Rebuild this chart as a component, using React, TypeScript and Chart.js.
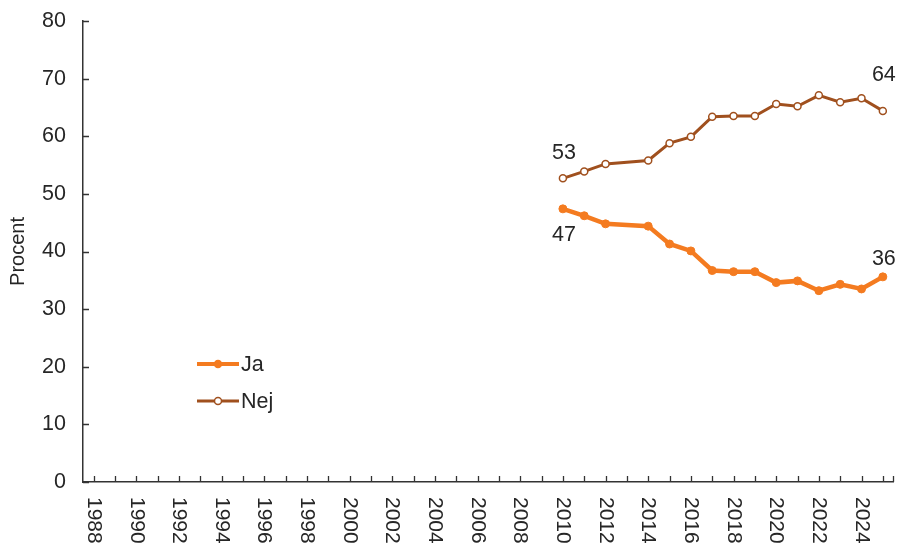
import React, { useEffect, useRef } from "react";
import { Chart, registerables } from "chart.js";

Chart.register(...registerables);

const years: string[] = [];
for (let y = 1988; y <= 2025; y++) years.push(String(y));

// values from 2010 to 2025 (2013 missing)
const jaValues: (number | null)[] = [
  null, null, null, null, null, null, null, null, null, null, null,
  null, null, null, null, null, null, null, null, null, null, null,
  47.4, 46.2, 44.8, null, 44.4, 41.3, 40.1, 36.7, 36.5, 36.5, 34.6, 34.9, 33.2, 34.3, 33.5, 35.6,
];
const nejValues: (number | null)[] = [
  null, null, null, null, null, null, null, null, null, null, null,
  null, null, null, null, null, null, null, null, null, null, null,
  52.7, 53.9, 55.2, null, 55.8, 58.8, 59.9, 63.4, 63.5, 63.5, 65.6, 65.2, 67.1, 65.9, 66.6, 64.4,
];
const seriesNames = ["Ja", "Nej"];
const yTicks = [0, 10, 20, 30, 40, 50, 60, 70, 80];
const yTitle = "Procent";

const JA_COLOR = "#F47B20";
const NEJ_COLOR = "#A0501E";
const TEXT = "#262626";
const AXIS = "#333333";
const FONT = "'Liberation Sans', Arial, sans-serif";
const FS = 21.5;

export default function App() {
  const ref = useRef<HTMLCanvasElement | null>(null);

  useEffect(() => {
    if (!ref.current) return;

    const customDraw = {
      id: "customDraw",
      afterDraw(chart: any) {
        const ctx = chart.ctx as CanvasRenderingContext2D;
        const area = chart.chartArea;
        const xs = chart.scales.x;
        const ys = chart.scales.y;
        ctx.save();
        // inward tick marks
        ctx.strokeStyle = AXIS;
        ctx.lineWidth = 1.3;
        ctx.beginPath();
        yTicks.forEach((v) => {
          const y = Math.round(ys.getPixelForValue(v)) + 0.5;
          ctx.moveTo(area.left, y);
          ctx.lineTo(area.left + 6, y);
        });
        years.forEach((_, i) => {
          const x = Math.round(xs.getPixelForValue(i)) + 0.5;
          ctx.moveTo(x, area.bottom);
          ctx.lineTo(x, area.bottom - 6);
        });
        ctx.moveTo(area.right, area.bottom);
        ctx.lineTo(area.right, area.bottom - 6);
        ctx.stroke();

        // rotated x labels (reading top to bottom)
        ctx.fillStyle = TEXT;
        ctx.font = `21px ${FONT}`;
        ctx.textAlign = "left";
        ctx.textBaseline = "middle";
        years.forEach((lab, i) => {
          if (i % 2 !== 0) return;
          const x = xs.getPixelForValue(i);
          ctx.save();
          ctx.translate(x, area.bottom + 15);
          ctx.rotate(Math.PI / 2);
          ctx.fillText(lab, 0, 0);
          ctx.restore();
        });

        // data labels at first and last points
        ctx.font = `${FS}px ${FONT}`;
        const metaJa = chart.getDatasetMeta(0);
        const metaNej = chart.getDatasetMeta(1);
        const firstIdx = jaValues.findIndex((v) => v !== null);
        const lastIdx = jaValues.length - 1;
        ctx.textAlign = "center";
        const lbl = (meta: any, idx: number, vals: (number | null)[], dy: number) => {
          const p = meta.data[idx];
          ctx.fillText(String(Math.round(vals[idx] as number)), p.x + 1, p.y + dy);
        };
        lbl(metaNej, firstIdx, nejValues, -25);
        lbl(metaJa, firstIdx, jaValues, 26);
        lbl(metaNej, lastIdx, nejValues, -36);
        lbl(metaJa, lastIdx, jaValues, -18);

        // legend
        const items = [
          { name: seriesNames[0], color: JA_COLOR, y: 364, filled: true, lw: 4 },
          { name: seriesNames[1], color: NEJ_COLOR, y: 401, filled: false, lw: 3 },
        ];
        items.forEach((it) => {
          ctx.strokeStyle = it.color;
          ctx.lineWidth = it.lw;
          ctx.beginPath();
          ctx.moveTo(197, it.y);
          ctx.lineTo(239, it.y);
          ctx.stroke();
          ctx.beginPath();
          ctx.arc(218, it.y, 3.5, 0, Math.PI * 2);
          ctx.fillStyle = it.filled ? it.color : "#ffffff";
          ctx.fill();
          ctx.lineWidth = 1.5;
          ctx.stroke();
          ctx.fillStyle = TEXT;
          ctx.textAlign = "left";
          ctx.textBaseline = "middle";
          ctx.fillText(it.name, 241, it.y + 1);
        });
        ctx.restore();
      },
    };

    const chart = new Chart(ref.current, {
      type: "line",
      data: {
        labels: years,
        datasets: [
          {
            label: seriesNames[0],
            data: jaValues,
            borderColor: JA_COLOR,
            backgroundColor: JA_COLOR,
            borderWidth: 4.5,
            pointRadius: 4,
            pointBorderWidth: 1,
            pointBackgroundColor: JA_COLOR,
            pointBorderColor: JA_COLOR,
            spanGaps: true,
            tension: 0,
          },
          {
            label: seriesNames[1],
            data: nejValues,
            borderColor: NEJ_COLOR,
            backgroundColor: "#ffffff",
            borderWidth: 3,
            pointRadius: 3.5,
            pointBorderWidth: 1.5,
            pointBackgroundColor: "#ffffff",
            pointBorderColor: NEJ_COLOR,
            spanGaps: true,
            tension: 0,
          },
        ],
      },
      options: {
        responsive: false,
        animation: false,
        devicePixelRatio: 1,
        layout: { padding: { left: 0, right: 4, top: 21, bottom: 0 } },
        plugins: {
          legend: { display: false },
          tooltip: { enabled: false },
        },
        scales: {
          x: {
            type: "category",
            offset: true,
            grid: { display: false, drawTicks: false },
            border: { display: true, color: AXIS, width: 1.5 },
            ticks: { display: false },
            afterFit: (s: any) => {
              s.height = 61;
              s.paddingLeft = 0;
              s.paddingRight = 0;
            },
          },
          y: {
            min: 0,
            max: 80,
            grid: { display: false, drawTicks: false },
            border: { display: true, color: AXIS, width: 1.5 },
            ticks: {
              stepSize: 10,
              padding: 17,
              color: TEXT,
              font: { family: FONT, size: FS },
            },
            title: {
              display: true,
              text: yTitle,
              color: TEXT,
              font: { family: FONT, size: 20 },
              padding: { top: 6, bottom: 0 },
            },
            afterFit: (s: any) => {
              s.width = 83;
              s.paddingTop = 0;
              s.paddingBottom = 0;
            },
          },
        },
      },
      plugins: [customDraw],
    } as any);

    return () => chart.destroy();
  }, []);

  return (
    <div style={{ position: "fixed", left: 0, top: 0, width: 899, height: 543, background: "#fff" }}>
      <canvas ref={ref} width={899} height={543} style={{ display: "block" }} />
    </div>
  );
}
